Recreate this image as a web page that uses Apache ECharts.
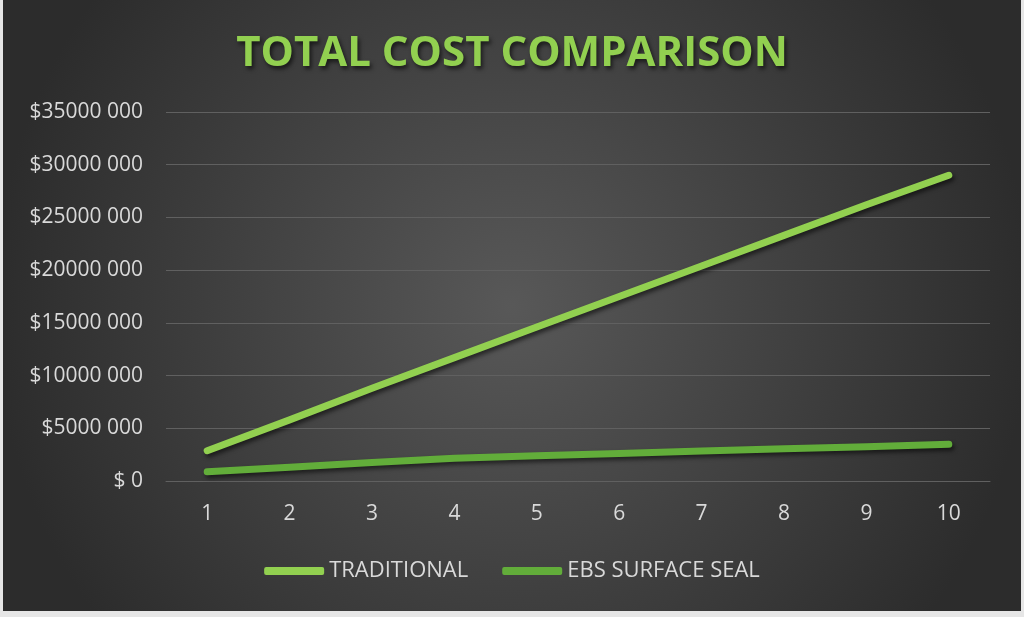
<!DOCTYPE html>
<html>
<head>
<meta charset="utf-8">
<script src="https://cdn.jsdelivr.net/npm/echarts@6/dist/echarts.min.js"></script>
<style>
  html, body { margin: 0; padding: 0; background: #e6e6e6; width: 1024px; height: 617px; overflow: hidden; }
  #chart { position: absolute; left: 3px; top: 0; width: 1018px; height: 611px; }
</style>
</head>
<body>
<div id="chart"></div>
<script>
const titleText = 'TOTAL COST COMPARISON';
const years = ['1', '2', '3', '4', '5', '6', '7', '8', '9', '10'];
const seriesNames = ['TRADITIONAL', 'EBS SURFACE SEAL'];
const traditional = [2870000, 5800000, 8800000, 11700000, 14600000, 17500000, 20400000, 23300000, 26200000, 29000000];
const ebsSurfaceSeal = [880000, 1300000, 1750000, 2150000, 2400000, 2600000, 2850000, 3050000, 3250000, 3480000];
const yTicks = [0, 5000000, 10000000, 15000000, 20000000, 25000000, 30000000, 35000000];

function fmtMoney(v) {
  if (v === 0) return '$ 0';
  const s = String(Math.round(v));
  return '$' + s.slice(0, s.length - 3) + ' ' + s.slice(-3);
}

const chart = echarts.init(document.getElementById('chart'));
const font = "'Open Sans', 'Liberation Sans', sans-serif";
const lineShadow = { shadowColor: 'rgba(0,0,0,0.55)', shadowBlur: 4, shadowOffsetX: 2, shadowOffsetY: 3 };

chart.setOption({
  backgroundColor: {
    type: 'radial', x: 0.5, y: 0.5, r: 0.85,
    colorStops: [{ offset: 0, color: '#585858' }, { offset: 1, color: '#2c2c2c' }]
  },
  title: {
    text: titleText,
    left: 'center',
    top: 28,
    textStyle: {
      fontFamily: font, fontWeight: 'bold', fontSize: 42, color: '#92d050',
      textShadowColor: 'rgba(0,0,0,0.6)', textShadowBlur: 4, textShadowOffsetX: 2, textShadowOffsetY: 3
    }
  },
  legend: {
    data: seriesNames,
    bottom: 24,
    left: 'center',
    icon: 'roundRect',
    itemWidth: 60,
    itemHeight: 8,
    itemGap: 34,
    textStyle: { fontFamily: font, fontSize: 22, color: '#d9d9d9' }
  },
  grid: { left: 163, right: 31, top: 112, bottom: 130, containLabel: false },
  xAxis: {
    type: 'category',
    data: years,
    boundaryGap: true,
    axisLine: { show: true, lineStyle: { color: '#606060', width: 1 } },
    axisTick: { show: false },
    axisLabel: { color: '#d9d9d9', fontFamily: font, fontSize: 21, margin: 23 }
  },
  yAxis: {
    type: 'value',
    min: yTicks[0],
    max: yTicks[yTicks.length - 1],
    interval: yTicks[1] - yTicks[0],
    axisLine: { show: false },
    axisTick: { show: false },
    splitLine: { lineStyle: { color: '#606060', width: 1 } },
    axisLabel: { color: '#d9d9d9', fontFamily: font, fontSize: 21, margin: 23, formatter: fmtMoney }
  },
  series: [
    {
      name: seriesNames[0], type: 'line', data: traditional,
      symbol: 'none', smooth: false,
      itemStyle: { color: '#92d050' },
      lineStyle: Object.assign({ color: '#92d050', width: 7, cap: 'round', join: 'round' }, lineShadow)
    },
    {
      name: seriesNames[1], type: 'line', data: ebsSurfaceSeal,
      symbol: 'none', smooth: false,
      itemStyle: { color: '#62ad3a' },
      lineStyle: Object.assign({ color: '#62ad3a', width: 7, cap: 'round', join: 'round' }, lineShadow)
    }
  ],
  animation: false
});
</script>
</body>
</html>
